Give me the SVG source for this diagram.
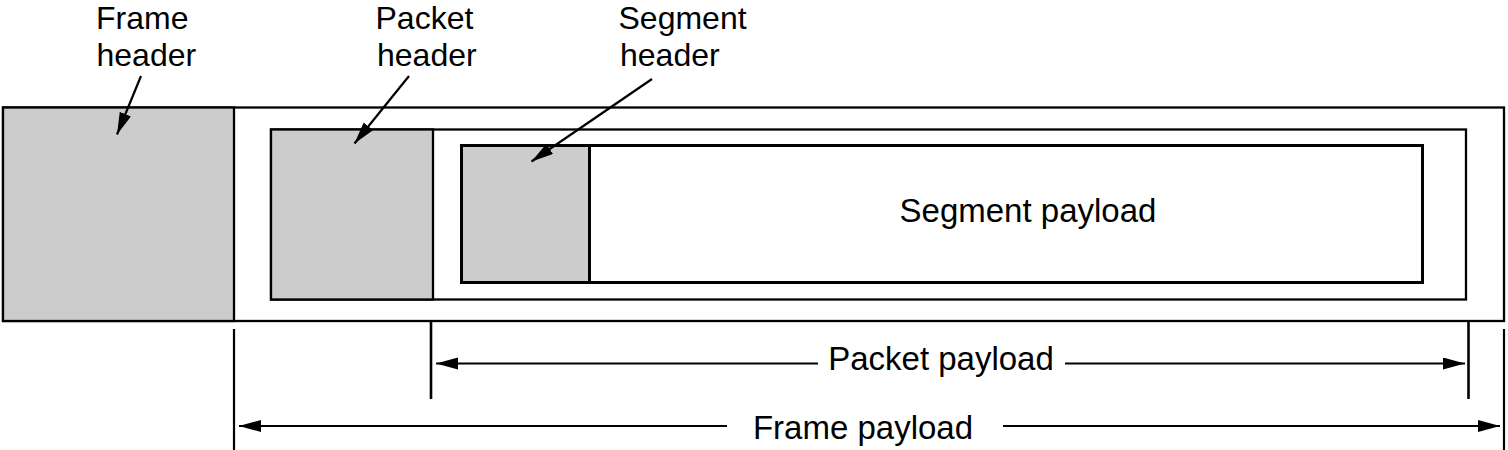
<svg xmlns="http://www.w3.org/2000/svg" width="1508" height="450" viewBox="0 0 1508 450">
<defs>
<marker id="ah" markerUnits="userSpaceOnUse" markerWidth="24" markerHeight="14" refX="22" refY="6" orient="auto">
<path d="M0,0 L22,6 L0,12 z" fill="#000"/>
</marker>
<style>
.box{fill:#fff;stroke:#000;stroke-width:2.3}
.hdr{fill:#cccccc;stroke:#000;stroke-width:2.3}
.seg{stroke-width:3}
.lbl{font-family:"Liberation Sans",Arial,sans-serif;font-size:33px;fill:#000}
.top{font-size:32px}
.ln{stroke:#000;stroke-width:2.2;fill:none}
.arr{stroke:#000;stroke-width:2.2;fill:none;marker-end:url(#ah)}
</style>
</defs>
<rect width="1508" height="450" fill="#fff"/>
<g id="frame">
<rect class="box" x="3" y="107.5" width="1501" height="213.5"/>
<rect class="hdr" x="3" y="107.5" width="231" height="213.5"/>
</g>
<g id="packet">
<rect class="box" x="271" y="129.5" width="1195" height="170"/>
<rect class="hdr" x="271" y="129.5" width="162" height="170"/>
</g>
<g id="segment">
<rect class="box seg" x="461.5" y="145.5" width="961" height="137"/>
<rect class="hdr seg" x="461.5" y="145.5" width="128" height="137"/>
<text class="lbl" x="1028" y="222" text-anchor="middle">Segment payload</text>
</g>
<g id="frame-header-label">
<text class="lbl top" x="96" y="29">Frame</text>
<text class="lbl top" x="96.5" y="66">header</text>
</g>
<g id="packet-header-label">
<text class="lbl top" x="375.5" y="29">Packet</text>
<text class="lbl top" x="377" y="66">header</text>
</g>
<g id="segment-header-label">
<text class="lbl top" x="618.5" y="29">Segment</text>
<text class="lbl top" x="620" y="66">header</text>
</g>
<g id="packet-payload-label">
<text class="lbl" x="941" y="370" text-anchor="middle">Packet payload</text>
</g>
<g id="frame-payload-label">
<text class="lbl" x="863" y="439" text-anchor="middle">Frame payload</text>
</g>
<g id="connectors">
<line class="arr" x1="141" y1="76" x2="117" y2="134.5"/>
<line class="arr" x1="409" y1="76" x2="354.5" y2="143.5"/>
<line class="arr" x1="652" y1="79" x2="531.5" y2="161.5"/>
<line class="ln" x1="234" y1="329" x2="234" y2="450"/>
<line class="ln" style="stroke-width:2.6" x1="431" y1="320" x2="431" y2="399"/>
<line class="ln" style="stroke-width:2.6" x1="1468.5" y1="320" x2="1468.5" y2="399"/>
<line class="ln" x1="1504" y1="329" x2="1504" y2="450"/>
<line class="arr" x1="818" y1="363.5" x2="436" y2="363.5"/>
<line class="arr" x1="1065" y1="363.5" x2="1465" y2="363.5"/>
<line class="arr" x1="727" y1="426" x2="239" y2="426"/>
<line class="arr" x1="1003" y1="426" x2="1500" y2="426"/>
</g>
</svg>
